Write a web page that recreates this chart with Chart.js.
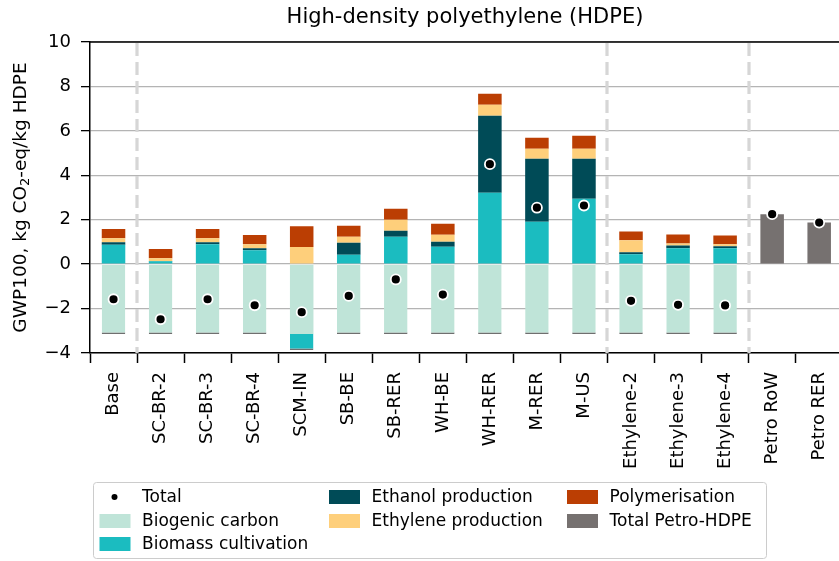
<!DOCTYPE html>
<html>
<head>
<meta charset="utf-8">
<script src="https://cdn.jsdelivr.net/npm/chart.js@4/dist/chart.umd.min.js"></script>
<style>
  html, body { margin: 0; padding: 0; background: #fff; overflow: hidden; width: 839px; height: 561px; }
  #wrap { position: absolute; left: 0; top: 0; width: 850px; height: 561px; }
</style>
</head>
<body>
<div id="wrap"><canvas id="c" width="850" height="561"></canvas></div>
<script>
// Global warming potential of HDPE pathways, kg CO2-eq per kg HDPE
const categories = ['Base', 'SC-BR-2', 'SC-BR-3', 'SC-BR-4', 'SCM-IN', 'SB-BE', 'SB-RER', 'WH-BE',
  'WH-RER', 'M-RER', 'M-US', 'Ethylene-2', 'Ethylene-3', 'Ethylene-4', 'Petro RoW', 'Petro RER'];

const biogenicCarbon = [-3.14, -3.14, -3.14, -3.14, -3.14, -3.14, -3.14, -3.14,
  -3.14, -3.14, -3.14, -3.14, -3.14, -3.14, null, null];
const biomassCultivation = [0.87, 0.13, 0.90, 0.63, -0.72, 0.42, 1.23, 0.78,
  3.21, 1.91, 2.94, 0.44, 0.71, 0.71, null, null];
const ethanolProduction = [0.12, 0.01, 0.09, 0.09, 0.00, 0.54, 0.27, 0.23,
  3.47, 2.83, 1.80, 0.09, 0.13, 0.09, null, null];
const ethyleneProduction = [0.18, 0.13, 0.18, 0.18, 0.77, 0.27, 0.50, 0.31,
  0.50, 0.46, 0.46, 0.54, 0.09, 0.09, null, null];
const polymerisation = [0.41, 0.41, 0.41, 0.41, 0.94, 0.50, 0.49, 0.50,
  0.49, 0.49, 0.58, 0.40, 0.41, 0.40, null, null];
const totalPetro = [null, null, null, null, null, null, null, null,
  null, null, null, null, null, null, 2.25, 1.87];
const total = [-1.58, -2.48, -1.58, -1.85, -2.16, -1.43, -0.69, -1.37,
  4.50, 2.54, 2.64, -1.65, -1.83, -1.86, 2.25, 1.87];

const yTicks = [-4, -2, 0, 2, 4, 6, 8, 10];
// last category of each group; a dashed divider follows it
const groupEnds = ['Base', 'M-US', 'Ethylene-4'];

const FONT = '"DejaVu Sans", Verdana, sans-serif';
const colors = {
  biogenic: '#bfe4d8',
  biomass: '#1bbcc0',
  ethanol: '#004b57',
  ethylene: '#fecf7b',
  poly: '#bb3e03',
  petro: '#767170'
};

// grey hairline at the lower end of each negative stack
function lowerEdge(isLowest) {
  return (ctx) => (isLowest(ctx.dataIndex) ? { top: 0, left: 0, right: 0, bottom: 1.3 } : 0);
}

const barBase = { stack: 'gwp', borderSkipped: false, borderColor: '#6f6f6f',
  barPercentage: 0.5, categoryPercentage: 1.0 };

const datasets = [
  { type: 'line', label: 'Total', data: total, stack: 'total', showLine: false,
    pointRadius: 5, pointHoverRadius: 5, pointBackgroundColor: '#000', pointBorderColor: '#fff',
    pointBorderWidth: 1.8, order: -1 },
  { ...barBase, type: 'bar', label: 'Biogenic carbon', data: biogenicCarbon, backgroundColor: colors.biogenic,
    borderWidth: lowerEdge((i) => !(biomassCultivation[i] < 0)) },
  { ...barBase, type: 'bar', label: 'Biomass cultivation', data: biomassCultivation, backgroundColor: colors.biomass,
    borderWidth: lowerEdge((i) => biomassCultivation[i] < 0) },
  { ...barBase, type: 'bar', label: 'Ethanol production', data: ethanolProduction, backgroundColor: colors.ethanol, borderWidth: 0 },
  { ...barBase, type: 'bar', label: 'Ethylene production', data: ethyleneProduction, backgroundColor: colors.ethylene, borderWidth: 0 },
  { ...barBase, type: 'bar', label: 'Polymerisation', data: polymerisation, backgroundColor: colors.poly, borderWidth: 0 },
  { ...barBase, type: 'bar', label: 'Total Petro-HDPE', data: totalPetro, backgroundColor: colors.petro, borderWidth: 0 }
];

// column-major legend layout: [dataset index, column, row]
const legendSlots = [[0, 0, 0], [1, 0, 1], [2, 0, 2], [3, 1, 0], [4, 1, 1], [5, 2, 0], [6, 2, 1]];

const decorations = {
  id: 'decorations',
  beforeDatasetsDraw(chart) {
    const { ctx, chartArea: a, scales: { x } } = chart;
    ctx.save();
    ctx.strokeStyle = '#d6d6d6';
    ctx.lineWidth = 3.2;
    ctx.setLineDash([13, 6]);
    groupEnds.forEach((name) => {
      const px = Math.round(x.getPixelForValue(categories.indexOf(name) + 0.5));
      ctx.beginPath();
      ctx.moveTo(px, a.top + 1);
      ctx.lineTo(px, a.bottom);
      ctx.stroke();
    });
    ctx.restore();
  },
  afterDraw(chart) {
    const { ctx, chartArea: a } = chart;
    ctx.save();
    // frame on top and right
    ctx.strokeStyle = '#000';
    ctx.lineWidth = 1.5;
    ctx.beginPath();
    ctx.moveTo(a.left, a.top);
    ctx.lineTo(a.right, a.top);
    ctx.lineTo(a.right, a.bottom);
    ctx.stroke();

    // title
    ctx.fillStyle = '#000';
    ctx.font = '21px ' + FONT;
    ctx.textAlign = 'center';
    ctx.textBaseline = 'middle';
    ctx.fillText('High-density polyethylene (HDPE)', 465, 18);

    // y-axis title with subscript
    ctx.save();
    ctx.translate(21, (a.top + a.bottom) / 2);
    ctx.rotate(-Math.PI / 2);
    const parts = [['GWP100, kg CO', 18.5, 0], ['2', 13, 5], ['-eq/kg HDPE', 18.5, 0]];
    let w = 0;
    parts.forEach(([t, s]) => { ctx.font = s + 'px ' + FONT; w += ctx.measureText(t).width; });
    let xx = -w / 2;
    ctx.textAlign = 'left';
    ctx.textBaseline = 'middle';
    parts.forEach(([t, s, dy]) => {
      ctx.font = s + 'px ' + FONT;
      ctx.fillText(t, xx, dy);
      xx += ctx.measureText(t).width;
    });
    ctx.restore();

    // legend
    const box = { l: 93.5, t: 482.5, r: 766.5, b: 558.5 };
    ctx.strokeStyle = '#cccccc';
    ctx.lineWidth = 1;
    ctx.beginPath();
    if (ctx.roundRect) ctx.roundRect(box.l, box.t, box.r - box.l, box.b - box.t, 3);
    else ctx.rect(box.l, box.t, box.r - box.l, box.b - box.t);
    ctx.stroke();
    const colX = [99.5, 329, 567];
    const rowY = [497, 521, 544];
    ctx.font = '17px ' + FONT;
    ctx.textAlign = 'left';
    ctx.textBaseline = 'middle';
    legendSlots.forEach(([di, c, r]) => {
      const ds = chart.data.datasets[di];
      const px = colX[c], py = rowY[r];
      if (ds.type === 'line') {
        ctx.fillStyle = '#000';
        ctx.beginPath();
        ctx.arc(px + 15, py, 3, 0, Math.PI * 2);
        ctx.fill();
      } else {
        ctx.fillStyle = ds.backgroundColor;
        ctx.fillRect(px, py - 7, 31, 14);
      }
      ctx.fillStyle = '#000';
      ctx.fillText(ds.label, px + 42.5, py + 1);
    });
    ctx.restore();
  }
};

new Chart(document.getElementById('c'), {
  data: { labels: categories, datasets },
  plugins: [decorations],
  options: {
    responsive: false,
    animation: false,
    devicePixelRatio: 1,
    layout: { padding: { top: 42, right: 4.5, bottom: 0, left: 0 } },
    plugins: { legend: { display: false }, title: { display: false }, tooltip: { enabled: false } },
    scales: {
      x: {
        type: 'category',
        offset: true,
        stacked: true,
        grid: { display: true, drawOnChartArea: false, drawTicks: true, tickLength: 10, tickColor: '#000', tickWidth: 1.5 },
        border: { display: true, color: '#000', width: 1.5 },
        ticks: { color: '#000', font: { family: FONT, size: 18 }, minRotation: 90, maxRotation: 90, autoSkip: false, padding: 9 },
        afterFit(s) { s.height = 208; }
      },
      y: {
        type: 'linear',
        stacked: true,
        min: -4,
        max: 10,
        afterBuildTicks(s) { s.ticks = yTicks.map((v) => ({ value: v })); },
        grid: { color: '#b4b4b4', lineWidth: 1.3, tickColor: '#000', tickWidth: 1.3, tickLength: 9, drawTicks: true },
        border: { display: true, color: '#000', width: 1.5 },
        ticks: { color: '#000', font: { family: FONT, size: 18 }, padding: 10,
          callback: (v) => (v < 0 ? '\u2212' + Math.abs(v) : String(v)) },
        afterFit(s) { s.width = 90; }
      }
    }
  }
});
</script>
</body>
</html>
